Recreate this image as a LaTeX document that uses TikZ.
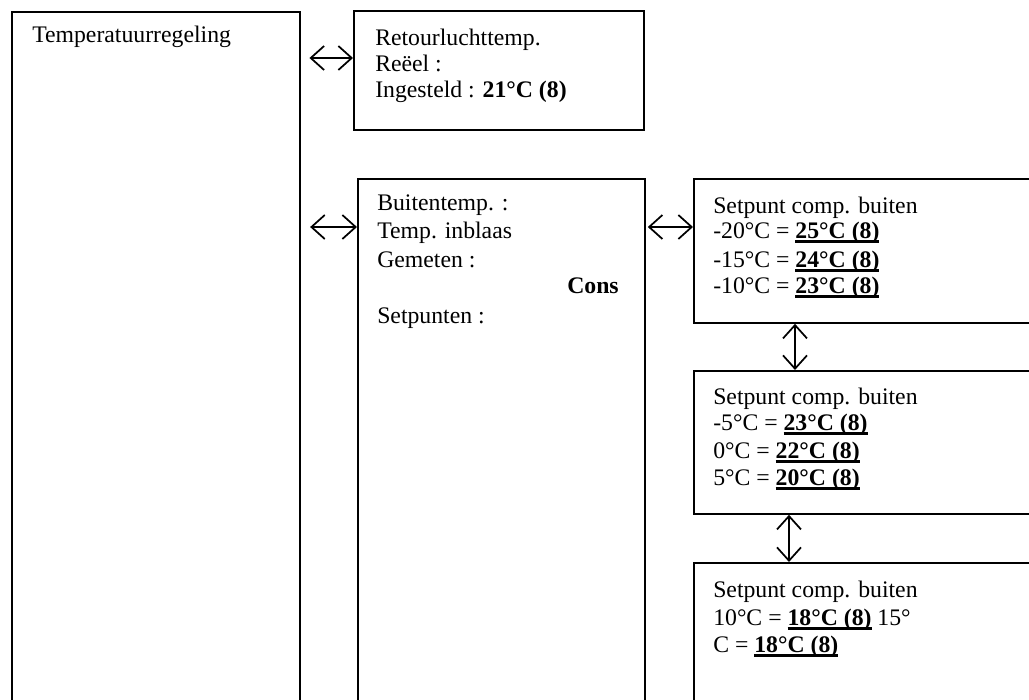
\documentclass[tikz,border=0pt]{standalone}
\usepackage{fontspec}
\setmainfont{Liberation Serif}
\usetikzlibrary{arrows.meta,calc}
\newcommand\ulb[1]{\setbox0\hbox{\bfseries #1}\leavevmode\rlap{\vrule height -1.5pt depth 3.6pt width \wd0}\box0\relax}
\tikzset{
  box/.style={draw, line width=1.35pt, anchor=north west, inner sep=0pt},
  txt/.style={anchor=base west, inner sep=0pt, font=\fontsize{17.8}{19.5}\selectfont},
  arr/.style={line width=1.3pt, {Straight Barb[length=10pt,width=18pt,line width=1.3pt]}-{Straight Barb[length=10pt,width=18pt,line width=1.3pt]}}
}
\begin{document}
\begin{tikzpicture}[x=0.75pt,y=-0.75pt]
\useasboundingbox (0,0) rectangle (1029,700);
\clip (0,0) rectangle (1029,700);
% boxes
\node[box, minimum width=216pt, minimum height=531.75pt] (L) at (11,11) {};
\node[box, minimum width=217.5pt, minimum height=89.25pt] (R) at (353,10) {};
\node[box, minimum width=215.25pt, minimum height=406.5pt] (B) at (357,178) {};
\node[box, minimum width=260.25pt, minimum height=108pt] (S1) at (693,178) {};
\node[box, minimum width=260.25pt, minimum height=107.25pt] (S2) at (693,370) {};
\node[box, minimum width=260.25pt, minimum height=118.5pt] (S3) at (693,562) {};
% texts
\node[txt] (t0) at (32,42) {Temperatuurregeling};
\node[txt] (r1) at (375,45) {Retourluchttemp.};
\node[txt] (r2) at (375,71) {Reëel :};
\node[txt] (r3) at (375,97) {Ingesteld : \textbf{21°C (8)}};
\node[txt] (b1) at (377,210) {Buitentemp. :};
\node[txt] (b2) at (377,238) {Temp. inblaas};
\node[txt] (b3) at (377,267) {Gemeten :};
\node[txt] (b4) at (567,293) {\textbf{Cons}};
\node[txt] (b5) at (377,323) {Setpunten :};
\node[txt] (s11) at (713,213) {Setpunt comp. buiten};
\node[txt] (s12) at (713,238) {-20°C = \ulb{25°C (8)}};
\node[txt] (s13) at (713,267) {-15°C = \ulb{24°C (8)}};
\node[txt] (s14) at (713,293) {-10°C = \ulb{23°C (8)}};
\node[txt] (s21) at (713,404) {Setpunt comp. buiten};
\node[txt] (s22) at (713,430) {-5°C = \ulb{23°C (8)}};
\node[txt] (s23) at (713,458) {0°C = \ulb{22°C (8)}};
\node[txt] (s24) at (713,485) {5°C = \ulb{20°C (8)}};
\node[txt] (s31) at (713,597) {Setpunt comp. buiten};
\node[txt] (s32) at (713,625) {10°C = \ulb{18°C (8)} 15°};
\node[txt] (s33) at (713,652) {C = \ulb{18°C (8)}};
% connectors
\coordinate (a1) at ([yshift=-36pt]R.north west);
\coordinate (a2) at ([yshift=-36.75pt]B.north west);
\coordinate (a3) at ([yshift=-36.75pt]S1.north west);
\coordinate (v1) at ([xshift=76.5pt]S1.south west);
\coordinate (v2) at ([xshift=72pt]S2.south west);
\draw[arr, shorten <=6.5pt] (L.east |- a1) -- (a1);
\draw[arr, shorten <=7pt] (L.east |- a2) -- (a2);
\draw[arr, shorten <=1.5pt] (B.east |- a3) -- (a3);
\draw[arr] (v1) -- (v1 |- S2.north);
\draw[arr] (v2) -- (v2 |- S3.north);
\end{tikzpicture}
\end{document}
